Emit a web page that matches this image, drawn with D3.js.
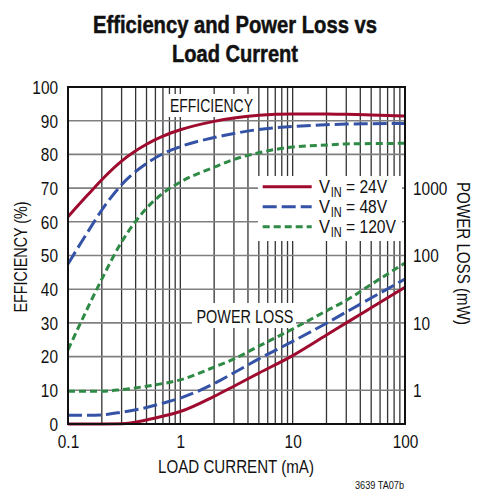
<!DOCTYPE html>
<html>
<head>
<meta charset="utf-8">
<script src="https://cdn.jsdelivr.net/npm/d3@7"></script>
<style>
  body { margin: 0; background: #fff; }
  text { font-family: "Liberation Sans", Arial, sans-serif; fill: #111; }
</style>
</head>
<body>
<div id="chart"></div>
<script>
// Load current (mA) sample points
const current = [0.1, 0.15, 0.2, 0.3, 0.5, 0.7, 1, 2, 3, 5, 10, 20, 30, 50, 100];

// Efficiency (%)
const eff24 = [61.5, 68, 72.5, 78, 83, 85.4, 87.3, 89.8, 90.8, 91.6, 92, 92, 91.9, 91.7, 91.4];
const eff48 = [47.5, 57, 63.5, 71, 77.3, 80.2, 82.3, 85, 86.2, 87.4, 88.3, 88.8, 89, 89.1, 89.2];
const eff120 = [22, 34.5, 43, 54, 64, 68.5, 71.8, 76.2, 78.5, 80.5, 82.2, 82.8, 83.1, 83.2, 83.3];

// Power loss (mW)
const loss24 = [0.316, 0.316, 0.316, 0.318, 0.362, 0.413, 0.484, 0.813, 1.15, 1.8, 3.27, 6.6, 10, 16.8, 33.9];
const loss48 = [0.427, 0.427, 0.432, 0.473, 0.556, 0.646, 0.767, 1.26, 1.82, 2.92, 5.31, 9.89, 14.5, 23.4, 44.7];
const loss120 = [0.966, 0.966, 0.966, 1.023, 1.148, 1.259, 1.429, 2.21, 2.92, 4.52, 8.13, 15.1, 21.6, 37.2, 77.6];

const xTicks = [0.1, 1, 10, 100];
const effTicks = [0, 10, 20, 30, 40, 50, 60, 70, 80, 90, 100];
const lossTicks = [1, 10, 100, 1000];

const series = [
  { name: "24V", eff: eff24, loss: loss24, color: "#9e0b2f", dash: null, w: 41 },
  { name: "48V", eff: eff48, loss: loss48, color: "#3553a6", dash: "14,5", w: 41 },
  { name: "120V", eff: eff120, loss: loss120, color: "#2e8a45", dash: "7,4", w: 50 }
];

const W = 479, H = 500;
const margin = { left: 68, right: 74, top: 87, bottom: 76 };
const pw = W - margin.left - margin.right;
const ph = H - margin.top - margin.bottom;

// squeeze a text to a given width (the original face is a condensed one)
function fit(sel, w) {
  return sel.attr("textLength", w).attr("lengthAdjust", "spacingAndGlyphs");
}
function squeeze(sel, k) {
  sel.each(function() {
    const len = this.getComputedTextLength();
    d3.select(this).attr("textLength", len * k).attr("lengthAdjust", "spacingAndGlyphs");
  });
}

const svg = d3.select("#chart").append("svg")
  .attr("width", W).attr("height", H);

const g = svg.append("g").attr("transform", `translate(${margin.left},${margin.top})`);

const x = d3.scaleLog().domain([0.1, 100]).range([0, pw]);
const yEff = d3.scaleLinear().domain([0, 100]).range([ph, 0]);
const yLoss = d3.scaleLog().domain([Math.pow(10, -0.5), Math.pow(10, 4.5)]).range([ph, 0]).clamp(true);

// Title
fit(svg.append("text").attr("x", 235).attr("y", 33).attr("text-anchor", "middle")
  .attr("font-size", 23).attr("font-weight", "bold")
  .attr("stroke", "#111").attr("stroke-width", 0.5)
  .text("Efficiency and Power Loss vs"), 284);
fit(svg.append("text").attr("x", 235).attr("y", 62).attr("text-anchor", "middle")
  .attr("font-size", 23).attr("font-weight", "bold")
  .attr("stroke", "#111").attr("stroke-width", 0.5)
  .text("Load Current"), 126);

// Grid
const minor = [];
for (let d = 0.1; d < 100; d *= 10) {
  for (let k = 2; k <= 9; k++) minor.push(+(d * k).toPrecision(3));
}
minor.push(1, 10);

g.append("g").selectAll("line").data(minor).join("line")
  .attr("x1", d => x(d)).attr("x2", d => x(d))
  .attr("y1", 0).attr("y2", ph)
  .attr("stroke", "#333").attr("stroke-width", 1.3);

g.append("g").selectAll("line").data(effTicks.slice(1, -1)).join("line")
  .attr("x1", 0).attr("x2", pw)
  .attr("y1", d => yEff(d)).attr("y2", d => yEff(d))
  .attr("stroke", "#808080").attr("stroke-width", 1.6);

// White label boxes over the grid
g.append("rect").attr("x", 98).attr("y", 7).attr("width", 91).attr("height", 23).attr("fill", "#fff");
g.append("rect").attr("x", 124).attr("y", 216).attr("width", 104).attr("height", 25).attr("fill", "#fff");
g.append("rect").attr("x", 190).attr("y", 89).attr("width", 144).attr("height", 65).attr("fill", "#fff");

fit(g.append("text").attr("x", 143.5).attr("y", 24.7).attr("text-anchor", "middle")
  .attr("font-size", 18).text("EFFICIENCY"), 83);
fit(g.append("text").attr("x", 177).attr("y", 235.7).attr("text-anchor", "middle")
  .attr("font-size", 18).text("POWER LOSS"), 97);

// Curves
const effLine = d3.line().curve(d3.curveMonotoneX)
  .x((d, i) => x(current[i])).y(d => yEff(d));
const lossLine = d3.line().curve(d3.curveMonotoneX)
  .x((d, i) => x(current[i])).y(d => yLoss(d));

series.forEach(s => {
  [effLine(s.eff), lossLine(s.loss)].forEach(p => {
    g.append("path").attr("d", p)
      .attr("fill", "none").attr("stroke", s.color).attr("stroke-width", 3)
      .attr("stroke-dasharray", s.dash);
  });
});

// Legend
series.forEach((s, i) => {
  const ly = 99.7 + i * 20;
  g.append("line").attr("x1", 194.7).attr("x2", 243.7).attr("y1", ly).attr("y2", ly)
    .attr("stroke", s.color).attr("stroke-width", 3).attr("stroke-dasharray", s.dash);
  fit(g.append("text").attr("x", 251).attr("y", ly + 6).attr("font-size", 18).text("V"), 11);
  fit(g.append("text").attr("x", 262.7).attr("y", ly + 10).attr("font-size", 15).text("IN"), 11);
  fit(g.append("text").attr("x", 278).attr("y", ly + 6).attr("font-size", 18).text("= " + s.name), s.w);
});

// Frame
g.append("rect").attr("width", pw).attr("height", ph)
  .attr("fill", "none").attr("stroke", "#111").attr("stroke-width", 2);

// Axes
const xAxis = g.append("g").attr("transform", `translate(0,${ph})`)
  .call(d3.axisBottom(x).tickValues(xTicks).tickFormat(d => d).tickSize(0).tickPadding(12));
const yAxisL = g.append("g")
  .call(d3.axisLeft(yEff).tickValues(effTicks).tickSize(0).tickPadding(10));
const yAxisR = g.append("g").attr("transform", `translate(${pw},0)`)
  .call(d3.axisRight(yLoss).tickValues(lossTicks).tickFormat(d => d).tickSize(0).tickPadding(8));

[xAxis, yAxisL, yAxisR].forEach(a => {
  a.select(".domain").remove();
  a.selectAll("text").attr("font-size", 17.5).attr("fill", "#111")
    .style("font-family", "'Liberation Sans', Arial, sans-serif");
});
yAxisL.selectAll("text").attr("dy", "0.36em");
yAxisR.selectAll("text").attr("dy", "0.36em");
[xAxis, yAxisL, yAxisR].forEach(a => squeeze(a.selectAll("text"), 0.88));

// Axis titles
fit(svg.append("text").attr("x", 236).attr("y", 473).attr("text-anchor", "middle")
  .attr("font-size", 18).text("LOAD CURRENT (mA)"), 156);
fit(svg.append("text").attr("transform", "translate(27,257) rotate(-90)").attr("text-anchor", "middle")
  .attr("font-size", 18).text("EFFICIENCY (%)"), 111);
fit(svg.append("text").attr("transform", "translate(457,253.5) rotate(90)").attr("text-anchor", "middle")
  .attr("font-size", 18).text("POWER LOSS (mW)"), 143);
fit(svg.append("text").attr("x", 404).attr("y", 489).attr("text-anchor", "end")
  .attr("font-size", 10).text("3639 TA07b"), 49);
</script>
</body>
</html>
